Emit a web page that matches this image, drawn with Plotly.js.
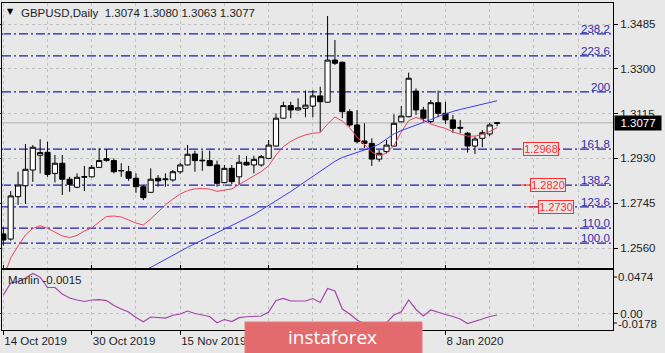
<!DOCTYPE html>
<html><head><meta charset="utf-8">
<script src="https://cdn.plot.ly/plotly-3.0.1.min.js"></script>
<style>html,body{margin:0;padding:0;background:#e8e8e8;overflow:hidden}#chart{width:665px;height:353px}</style>
</head><body><div id="chart"></div>
<script>
// ---- data ----
const dates = ['2019-10-14','2019-10-15','2019-10-16','2019-10-17','2019-10-18','2019-10-21','2019-10-22','2019-10-23','2019-10-24','2019-10-25',
'2019-10-28','2019-10-29','2019-10-30','2019-10-31','2019-11-01','2019-11-04','2019-11-05','2019-11-06','2019-11-07','2019-11-08',
'2019-11-11','2019-11-12','2019-11-13','2019-11-14','2019-11-15','2019-11-18','2019-11-19','2019-11-20','2019-11-21','2019-11-22',
'2019-11-25','2019-11-26','2019-11-27','2019-11-28','2019-11-29','2019-12-02','2019-12-03','2019-12-04','2019-12-05','2019-12-06',
'2019-12-09','2019-12-10','2019-12-11','2019-12-12','2019-12-13','2019-12-16','2019-12-17','2019-12-18','2019-12-19','2019-12-20',
'2019-12-23','2019-12-24','2019-12-26','2019-12-27','2019-12-30','2019-12-31','2020-01-02','2020-01-03','2020-01-06','2020-01-07',
'2020-01-08','2020-01-09','2020-01-10','2020-01-13','2020-01-14','2020-01-15','2020-01-16','2020-01-17'];

const open = [1.2618,1.2597,1.2772,1.2817,1.2882,1.2943,1.2955,1.2868,1.2910,1.2844,
1.2811,1.2852,1.2854,1.2893,1.2921,1.2921,1.2878,1.2875,1.2848,1.2813,
1.2790,1.2848,1.2842,1.2841,1.2875,1.2903,1.2948,1.2920,1.2921,1.2903,
1.2830,1.2889,1.2854,1.2914,1.2903,1.2903,1.2930,1.2981,1.3096,1.3148,
1.3130,1.3137,1.3146,1.3188,1.3162,1.3336,1.3327,1.3123,1.3068,1.3002,
1.2992,1.2927,1.2958,1.2981,1.3081,1.3102,1.3208,1.3130,1.3082,1.3160,
1.3116,1.3089,1.3058,1.3034,1.2981,1.3013,1.3031,1.3074];
const high = [1.2648,1.2795,1.2875,1.2989,1.2985,1.3009,1.2999,1.2944,1.2944,1.2854,
1.2868,1.2899,1.2903,1.2972,1.2968,1.2930,1.2910,1.2899,1.2868,1.2820,
1.2889,1.2861,1.2868,1.2882,1.2912,1.2985,1.2962,1.2962,1.2962,1.2921,
1.2903,1.2903,1.2944,1.2940,1.2941,1.2944,1.3006,1.3116,1.3164,1.3164,
1.3178,1.3210,1.3212,1.3226,1.3518,1.3419,1.3330,1.3133,1.3130,1.3075,
1.3013,1.2965,1.3006,1.3112,1.3146,1.3284,1.3219,1.3143,1.3171,1.3210,
1.3164,1.3109,1.3089,1.3040,1.3020,1.3047,1.3077,1.3080];
const low = [1.2570,1.2590,1.2738,1.2742,1.2833,1.2868,1.2854,1.2831,1.2779,1.2792,
1.2807,1.2795,1.2852,1.2890,1.2917,1.2868,1.2854,1.2837,1.2788,1.2758,
1.2788,1.2813,1.2813,1.2834,1.2866,1.2901,1.2875,1.2879,1.2898,1.2813,
1.2828,1.2824,1.2820,1.2900,1.2868,1.2896,1.2928,1.2978,1.3094,1.3096,
1.3128,1.3100,1.3100,1.3040,1.3160,1.3316,1.3096,1.3061,1.2992,1.2973,
1.2899,1.2916,1.2951,1.2980,1.3080,1.3100,1.3109,1.3082,1.3075,1.3100,
1.3072,1.3036,1.3034,1.2954,1.2948,1.2976,1.3022,1.3063];
const close = [1.2593,1.2775,1.2820,1.2885,1.2976,1.2954,1.2864,1.2910,1.2844,1.2823,
1.2852,1.2855,1.2893,1.2921,1.2929,1.2875,1.2880,1.2848,1.2813,1.2768,
1.2844,1.2837,1.2845,1.2875,1.2903,1.2947,1.2921,1.2922,1.2900,1.2827,
1.2889,1.2834,1.2914,1.2903,1.2926,1.2937,1.2985,1.3096,1.3148,1.3130,
1.3139,1.3150,1.3188,1.3164,1.3336,1.3323,1.3123,1.3068,1.2999,1.2992,
1.2927,1.2951,1.2985,1.3075,1.3105,1.3261,1.3130,1.3096,1.3160,1.3116,
1.3089,1.3054,1.3055,1.2981,1.3010,1.3036,1.3068,1.3077];

// fast moving average (red)
const maFast = [1.2436,1.2519,1.2568,1.2614,1.2641,1.2652,1.2641,1.2624,1.2610,1.2603,
1.2612,1.2630,1.2643,1.2667,1.2690,1.2692,1.2688,1.2676,1.2663,1.2655,
1.2680,1.2709,1.2738,1.2762,1.2783,1.2797,1.2804,1.2806,1.2803,1.2794,
1.2800,1.2804,1.2822,1.2839,1.2857,1.2876,1.2899,1.2944,1.2979,1.3000,
1.3016,1.3027,1.3034,1.3036,1.3072,1.3101,1.3084,1.3056,1.3018,1.2987,
1.2956,1.2940,1.2952,1.2983,1.3039,1.3086,1.3099,1.3089,1.3072,1.3062,
1.3054,1.3039,1.3029,1.3022,1.3022,1.3029,1.3041,1.3057];
// slow moving average (blue)
const maSlow = [null,null,null,null,null,null,null,null,null,null,
null,null,null,null,null,null,null,null,1.2447,1.2463,
1.2480,1.2497,1.2513,1.2530,1.2546,1.2563,1.2579,1.2594,1.2608,1.2623,
1.2637,1.2653,1.2668,1.2683,1.2698,1.2717,1.2736,1.2754,1.2772,1.2793,
1.2814,1.2835,1.2856,1.2877,1.2898,1.2918,1.2934,1.2944,1.2953,1.2963,
1.2975,1.2989,1.3010,1.3031,1.3045,1.3056,1.3066,1.3077,1.3090,1.3103,
1.3115,1.3124,1.3132,1.3139,1.3147,1.3154,1.3161,1.3168];
// Marlin oscillator
const marlin = [0.0202,0.0333,0.0349,0.0387,0.0436,0.0395,0.0284,0.0284,0.0213,0.0170,
0.0148,0.0132,0.0148,0.0153,0.0142,0.0088,0.0050,0.0017,-0.0042,-0.0088,
-0.0037,-0.0042,-0.0048,-0.0018,-0.0004,0.0028,0.0001,-0.0015,-0.0031,-0.0099,
-0.0064,-0.0086,-0.0044,-0.0034,-0.0031,-0.0026,0.0017,0.0142,0.0166,0.0137,
0.0137,0.0137,0.0164,0.0121,0.0273,0.0246,0.0050,-0.0004,-0.0069,-0.0113,
-0.0135,-0.0124,-0.0097,-0.0015,0.0020,0.0148,0.0045,-0.0026,0.0039,0.0012,
-0.0010,-0.0031,-0.0059,-0.0108,-0.0086,-0.0059,-0.0031,-0.0015];

// tick labels (labels at bars 36 and 48 are hidden behind the watermark in the reference)
const tickBars = [0,12,24,36,48,60];
const tickLabels = ['14 Oct 2019','30 Oct 2019','15 Nov 2019','','','8 Jan 2020'];
const priceTicks = [1.2560,1.2745,1.2930,1.3115,1.3300,1.3485];
const priceTickText = ['1.2560','1.2745','1.2930','1.3115','1.3300','1.3485'];
const fibLevels = [1.2580,1.2642,1.2730,1.2820,1.2968,1.3205,1.3353,1.3444];
const fibNames = ['100.0','110.0','123.6','138.2','161.8','200','223.6','238.2'];
const priceLabels = [1.2968,1.2820,1.2730];
const priceLabelText = ['1.2968','1.2820','1.2730'];
const priceLabelBars = [69,70,71];
const bid = 1.3077;
const bidText = '1.3077';
const ohlcText = '1.3074 1.3080 1.3063 1.3077';
const marlinText = 'Marlin -0.0015';
const oscMax = 0.0474, oscMin = -0.0178;

// ---- figure ----
const W = 665, H = 353, mL = 2, mR = 52, mT = 3, mB = 23;
const plotW = W - mL - mR, plotH = H - mT - mB;
const pyP = py => (H - mB - py) / plotH;
const pxP = px => (px - mL) / plotW;
const X = dates.map((d, i) => i);

const FONT = 'Liberation Sans, Arial, sans-serif';
const GRID = '#c2c2c2';
const FIB = '#1e1ea6';
const RED = '#ff2d2d';
const BG = '#e8e8e8';

const traces = [
  {type:'candlestick', x:X, open:open, high:high, low:low, close:close, xaxis:'x', yaxis:'y',
   increasing:{line:{color:'#000', width:1}, fillcolor:'#ffffff'},
   decreasing:{line:{color:'#000', width:1}, fillcolor:'#000000'},
   whiskerwidth:0, hoverinfo:'skip', showlegend:false},
  {type:'scatter', mode:'lines', x:X, y:maFast, xaxis:'x', yaxis:'y', line:{color:'#ea4660', width:1}, hoverinfo:'skip'},
  {type:'scatter', mode:'lines', x:X, y:maSlow, xaxis:'x', yaxis:'y', line:{color:'#3c3cf2', width:1}, hoverinfo:'skip', connectgaps:false},
  {type:'scatter', mode:'lines', x:X, y:marlin, xaxis:'x', yaxis:'y2', line:{color:'#a444aa', width:1.2}, hoverinfo:'skip'}
];

const shapes = [];
fibLevels.forEach(v => shapes.push({type:'line', xref:'paper', x0:0, x1:1, yref:'y', y0:v, y1:v,
  line:{color:FIB, width:1.2, dash:'9px,3px,2px,3px'}, layer:'between'}));
shapes.push({type:'line', xref:'paper', x0:0, x1:1, yref:'y', y0:bid, y1:bid, line:{color:'#c4c4c4', width:1.5}, layer:'between'});
priceLabels.forEach((v, i) => shapes.push({type:'line', xref:'x', x0:priceLabelBars[i], x1:priceLabelBars[i] + 1.5,
  yref:'y', y0:v, y1:v, line:{color:RED, width:1}, layer:'above'}));
// right-axis tick marks for oscillator extremes
[277, 323].forEach(py => shapes.push({type:'line', xref:'paper', x0:1, x1:1 + 4/plotW, yref:'paper', y0:pyP(py), y1:pyP(py), line:{color:'#000', width:1}}));
// watermark box
shapes.push({type:'rect', xref:'paper', yref:'paper', x0:pxP(245), x1:pxP(422), y0:pyP(360), y1:pyP(322),
  fillcolor:'#e46b6d', line:{color:'#e27a7c', width:1}, layer:'above'});

const annotations = [];
fibLevels.forEach((v, i) => annotations.push({xref:'paper', x:1, xanchor:'right', xshift:-1, yref:'y', y:v, yanchor:'bottom', yshift:-3,
  text:fibNames[i], showarrow:false, font:{family:FONT, size:11.5, color:'#2c2cb0'}}));
priceLabels.forEach((v, i) => annotations.push({xref:'x', x:priceLabelBars[i] + 1.5, xanchor:'left', yref:'y', y:v, yanchor:'middle',
  text:priceLabelText[i], showarrow:false, width:34, height:12, borderpad:0, borderwidth:1, bordercolor:RED, bgcolor:BG,
  font:{family:FONT, size:11, color:RED}}));
annotations.push({xref:'paper', x:1, xanchor:'left', xshift:1, yref:'y', y:bid, yanchor:'middle', text:bidText, showarrow:false,
  bgcolor:'#000', width:44, height:12, borderpad:1, font:{family:FONT, size:11.5, color:'#fff'}});
annotations.push({xref:'paper', x:pxP(10.5), xanchor:'center', yref:'paper', y:pyP(12), yanchor:'middle', text:'▼', showarrow:false,
  font:{family:'DejaVu Sans', size:8, color:'#000'}});
annotations.push({xref:'paper', x:pxP(19), xanchor:'left', yref:'paper', y:pyP(12.5), yanchor:'middle',
  text:'GBPUSD,Daily  ' + ohlcText, showarrow:false, font:{family:FONT, size:11.5, color:'#1e1e1e'}});
annotations.push({xref:'paper', x:pxP(6), xanchor:'left', yref:'paper', y:pyP(280), yanchor:'middle',
  text:marlinText, showarrow:false, font:{family:FONT, size:11.5, color:'#1e1e1e'}});
annotations.push({xref:'paper', x:1, xanchor:'left', xshift:3, yref:'paper', y:pyP(277), yanchor:'middle',
  text:oscMax.toFixed(4), showarrow:false, font:{family:FONT, size:11.5, color:'#1e1e1e'}});
annotations.push({xref:'paper', x:1, xanchor:'left', xshift:3, yref:'paper', y:pyP(324), yanchor:'middle',
  text:oscMin.toFixed(4), showarrow:false, font:{family:FONT, size:11.5, color:'#1e1e1e'}});
annotations.push({xref:'paper', x:pxP(332), xanchor:'center', yref:'paper', y:pyP(337), yanchor:'middle',
  text:'instaforex', showarrow:false, font:{family:'Open Sans, sans-serif', size:19, color:'#ffffff'}});

const axLine = {showline:true, linecolor:'#000', linewidth:1, mirror:'all', zeroline:false, fixedrange:true};
const layout = {
  width:W, height:H, margin:{l:mL, r:mR, t:mT, b:mB, pad:0},
  paper_bgcolor:BG, plot_bgcolor:BG, showlegend:false,
  boxgap:0.3, boxgroupgap:0,
  font:{family:FONT, size:11.5, color:'#1e1e1e'},
  xaxis:Object.assign({}, axLine, {anchor:'y2', range:[-0.18, 82.73], tickmode:'array', tickvals:tickBars, ticktext:tickLabels,
    ticks:'outside', ticklen:4, tickcolor:'#000', ticklabelposition:'outside right',
    showgrid:true, gridcolor:GRID, griddash:'3px,3px', gridwidth:1,
    minor:{tickmode:'linear', tick0:0, dtick:6, showgrid:true, gridcolor:GRID, griddash:'3px,3px', gridwidth:1, ticks:''},
    rangeslider:{visible:false}}),
  yaxis:Object.assign({}, axLine, {domain:[pyP(268), 1], range:[1.24774, 1.35717], side:'right', anchor:'x',
    tickmode:'array', tickvals:priceTicks, ticktext:priceTickText, ticks:'outside', ticklen:4, tickcolor:'#000',
    showgrid:true, gridcolor:GRID, griddash:'3px,3px', gridwidth:1}),
  yaxis2:Object.assign({}, axLine, {domain:[0, pyP(270)], range:[oscMin, oscMax], side:'right', anchor:'x',
    tickmode:'array', tickvals:[0], ticktext:['0.00'], ticks:'outside', ticklen:4, tickcolor:'#000',
    showgrid:true, gridcolor:GRID, griddash:'3px,3px', gridwidth:1}),
  shapes:shapes, annotations:annotations
};
Plotly.newPlot('chart', traces, layout, {staticPlot:true, displayModeBar:false});
</script></body></html>
